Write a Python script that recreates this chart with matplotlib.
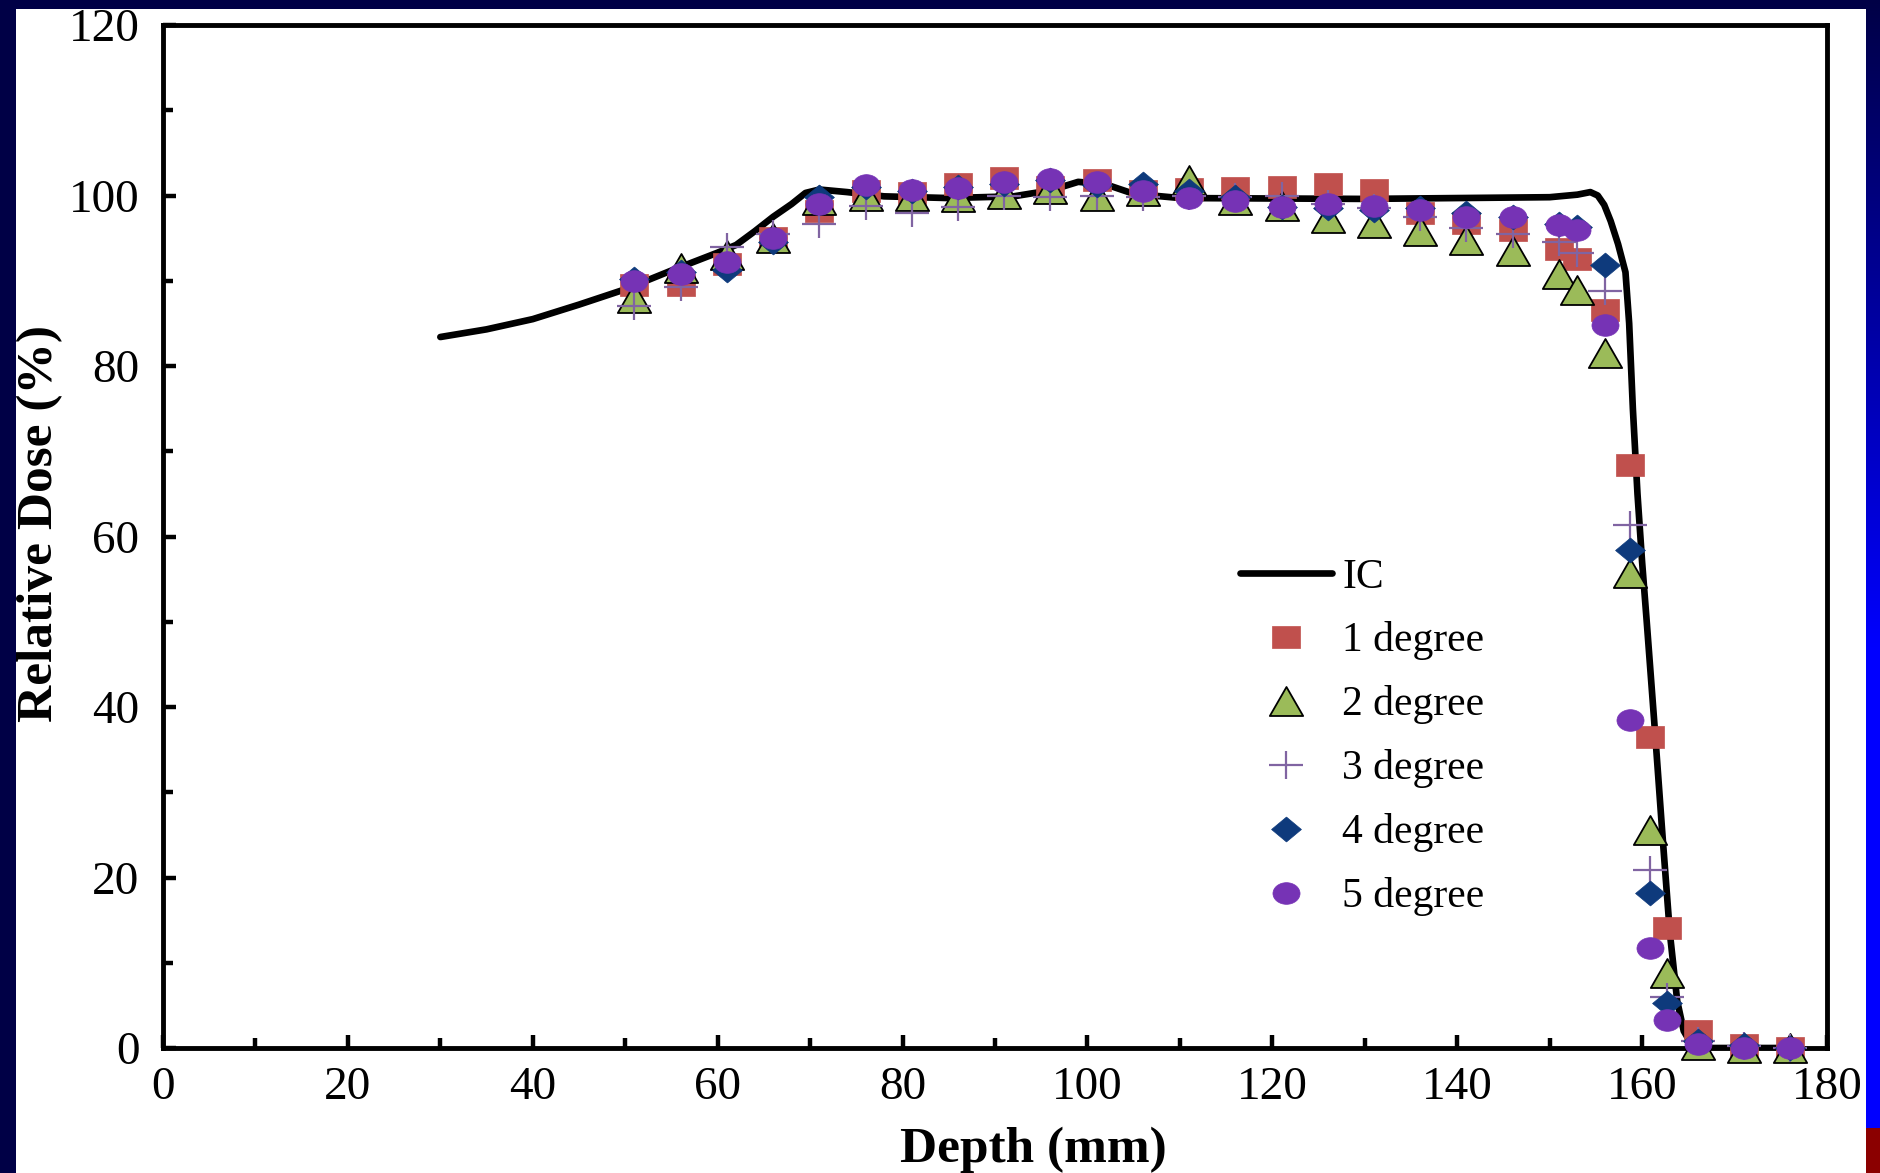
import numpy as np
import matplotlib
matplotlib.use("Agg")
import matplotlib.pyplot as plt
from matplotlib.path import Path
from matplotlib.patches import Rectangle
from matplotlib.ticker import MultipleLocator
import matplotlib.transforms as mtransforms

plt.rcParams['font.family'] = ['Liberation Serif', 'DejaVu Serif']

# curva camera a ionizzazione (IC)
ic_depth = [30, 35, 40, 45, 50, 55, 60, 62, 64, 66, 68, 69.5, 71, 74, 78, 85, 92,
            96, 99, 102, 105, 110, 130, 150, 153, 154.4, 155.2, 155.9, 156.6,
            157.4, 158.2, 158.6, 159.0, 159.5, 160.0, 160.5, 161.4, 162.2, 163.0,
            163.8, 164.5, 165.3, 166.5, 176]
ic_dose = [83.4, 84.3, 85.5, 87.2, 89.0, 91.2, 93.3, 94.2, 95.8, 97.5, 99.0, 100.3,
           100.7, 100.4, 99.9, 99.7, 99.9, 100.6, 101.6, 101.3, 100.2, 99.7, 99.6,
           99.8, 100.1, 100.4, 100.0, 98.9, 97.0, 94.3, 91.0, 85.0, 75.0, 65.0,
           57.0, 50.0, 37.0, 25.0, 13.5, 5.5, 2.0, 0.5, 0.0, 0.0]

# profondita' dei punti misurati
depth = [51, 56, 61, 66, 71, 76, 81, 86, 91, 96, 101, 106, 111, 116, 121, 126,
         131, 136, 141, 146, 151, 153, 156, 158.7, 160.8, 162.7, 166, 171, 176]

deg1 = [89.5, 89.5, 92.0, 95.0, 98.2, 100.5, 100.3, 101.4, 102.1, 101.0, 101.8,
        100.5, 100.8, 100.9, 101.0, 101.4, 100.7, 98.0, 96.8, 96.0, 93.7, 92.5,
        86.6, 68.4, 36.5, 14.1, 2.0, 0.3, 0.0]
deg2 = [88.0, 91.5, 93.0, 95.0, 99.5, 100.0, 100.0, 99.8, 100.2, 100.8, 100.0,
        100.5, 101.8, 99.5, 98.8, 97.4, 96.8, 95.8, 94.8, 93.5, 90.8, 88.9,
        81.5, 55.7, 25.6, 8.8, 0.3, 0.0, 0.0]
deg3 = [87.0, 89.3, 94.0, 95.5, 96.7, 98.8, 97.9, 98.6, 100.0, 99.8, 99.9,
        99.8, 100.0, 99.8, 99.9, 99.0, 98.5, 97.5, 96.2, 95.5, 94.5, 93.2,
        88.8, 61.3, 20.9, 6.0, 0.8, 0.2, 0.0]
deg4 = [90.2, 91.0, 91.3, 94.5, 99.8, 101.0, 100.5, 101.0, 101.3, 101.8, 101.2,
        101.3, 100.5, 99.8, 98.7, 98.5, 98.3, 98.5, 98.0, 97.5, 96.7, 96.3,
        91.9, 58.4, 18.2, 5.3, 0.8, 0.3, 0.0]
deg5 = [90.0, 90.8, 92.2, 95.0, 99.0, 101.2, 100.7, 100.9, 101.6, 101.9, 101.6,
        100.5, 99.7, 99.3, 98.6, 99.0, 98.8, 98.3, 97.5, 97.5, 96.5, 96.0,
        84.8, 38.5, 11.7, 3.3, 0.5, 0.0, 0.0]

labels = ["1 degree", "2 degree", "3 degree", "4 degree", "5 degree"]

# marker leggermente allargati in orizzontale
sq = Path([(-1.2, -1), (1.2, -1), (1.2, 1), (-1.2, 1), (-1.2, -1)], closed=True)
tri = Path([(-1.15, -1), (1.15, -1), (0, 1), (-1.15, -1)], closed=True)
dia = Path([(-1.2, 0), (0, -1), (1.2, 0), (0, 1), (-1.2, 0)], closed=True)
ell = Path.unit_circle().transformed(mtransforms.Affine2D().scale(1.25, 1.0))
plus = Path([(-1.2, 0), (1.2, 0), (0, -1), (0, 1)],
            [Path.MOVETO, Path.LINETO, Path.MOVETO, Path.LINETO])

W, H = 1880, 1173
fig = plt.figure(figsize=(W / 100, H / 100), dpi=100, facecolor="#000046")

# riquadro bianco della slide
fig.add_artist(Rectangle((16 / W, 0), (1866 - 16) / W, 1 - 9 / H,
                         transform=fig.transFigure, facecolor="white",
                         edgecolor="none", zorder=0))

# striscia a destra (sfumatura blu + rosso in basso)
strip = fig.add_axes([1866 / W, 0, 1 - 1866 / W, 1])
rows = np.arange(H)
blue = np.clip(70 + (255 - 70) * rows / 650, 0, 255) / 255
img = np.zeros((H, 1, 3))
img[:, 0, 2] = blue
img[1128:, 0, :] = [139 / 255, 0, 0]
strip.imshow(img, aspect="auto", interpolation="nearest")
strip.set_axis_off()

ax = fig.add_axes([163 / W, 1 - 1048 / H, (1827 - 163) / W, (1048 - 25) / H])
ax.set_facecolor("white")

ax.plot(ic_depth, ic_dose, color="black", lw=4.8, label="IC", zorder=3,
        solid_joinstyle="round", solid_capstyle="round")
ax.plot(depth, deg1, ls="none", marker=sq, ms=19.5, mfc="#C0504D", mec="#C0504D",
        mew=0.5, label=labels[0], zorder=4, clip_on=False)
ax.plot(depth, deg2, ls="none", marker=tri, ms=24, mfc="#9BBB59", mec="black",
        mew=1.3, label=labels[1], zorder=5, clip_on=False)
ax.plot(depth, deg3, ls="none", marker=plus, ms=24, mfc="none", mec="#8064A2",
        mew=1.6, label=labels[2], zorder=6, clip_on=False)
ax.plot(depth, deg4, ls="none", marker=dia, ms=21.5, mfc="#0E3A7C", mec="#0E3A7C",
        mew=0.5, label=labels[3], zorder=7, clip_on=False)
ax.plot(depth, deg5, ls="none", marker=ell, ms=19.5, mfc="#7633B5", mec="#7633B5",
        mew=0.5, label=labels[4], zorder=8, clip_on=False)

ax.set_xlim(0, 180)
ax.set_ylim(0, 120)
ax.set_xticks(range(0, 181, 20))
ax.set_yticks(range(0, 121, 20))
ax.xaxis.set_minor_locator(MultipleLocator(10))
ax.yaxis.set_minor_locator(MultipleLocator(10))
ax.tick_params(which="both", direction="in", width=3.2, labelsize=34,
               top=False, right=False)
ax.tick_params(which="major", length=9.5)
ax.tick_params(which="minor", length=7)
ax.tick_params(axis="x", pad=13)
ax.tick_params(axis="y", pad=17)
for sp in ax.spines.values():
    sp.set_linewidth(3.5)

fig.text(1033 / W, 1 - 1150 / H, "Depth (mm)", ha="center", va="center",
         fontsize=37, fontweight="bold")
fig.text(40 / W, 1 - 523 / H, "Relative Dose (%)", ha="center", va="center",
         rotation=90, fontsize=37, fontweight="bold")

leg = ax.legend(loc="upper left", bbox_to_anchor=(1240 / W, 1 - 558 / H),
                bbox_transform=fig.transFigure, frameon=False, fontsize=30,
                handlelength=2.2, handletextpad=0.25, labelspacing=0.6,
                borderpad=0, borderaxespad=0, numpoints=1)

plt.savefig("out.png", dpi=100, facecolor=fig.get_facecolor())
plt.close()
